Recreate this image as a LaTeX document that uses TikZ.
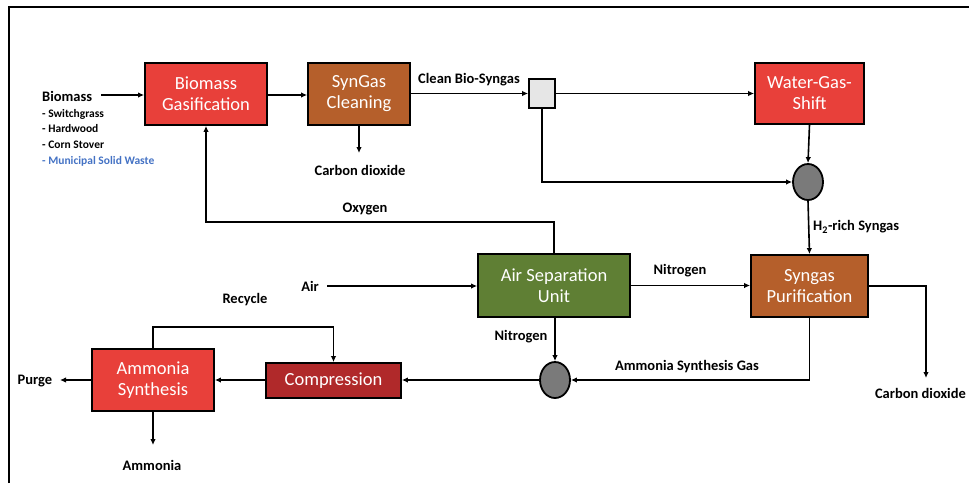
\documentclass[tikz,border=0pt]{standalone}
\usepackage{fontspec}
\setmainfont{Carlito}
\usetikzlibrary{arrows.meta,shapes.geometric}
\definecolor{boxred}{HTML}{E8403A}
\definecolor{boxbrown}{HTML}{B55F2B}
\definecolor{boxdark}{HTML}{B0292A}
\definecolor{boxgreen}{HTML}{5F7F34}
\definecolor{mixgray}{HTML}{7A7A7A}
\definecolor{sqgray}{HTML}{E6E6E6}
\definecolor{wasteblue}{HTML}{4472C4}
\tikzset{
  unit/.style={draw=black, line width=1.8pt, text=white, align=center,
    font=\fontsize{18.5}{21}\selectfont, inner sep=0pt},
  mixer/.style={ellipse, draw=black, line width=1.8pt, fill=mixgray,
    minimum width=30pt, minimum height=36pt, inner sep=0pt},
  lbl/.style={font=\bfseries\fontsize{14.5}{16}\selectfont, inner sep=1pt},
  lst/.style={font=\bfseries\fontsize{11.5}{13}\selectfont, inner sep=0pt, anchor=west},
  arr/.style={line width=1.6pt, -{Latex[length=6pt,width=5.5pt]}},
  ln/.style={line width=1.6pt}
}
\begin{document}
\begin{tikzpicture}[x=1pt,y=-1pt]
\useasboundingbox (0,0) rectangle (969,483);
\draw[line width=2pt] (8.5,483) -- (8.5,7) -- (969,7);

% units
\node[unit, fill=boxred, minimum width=122pt, minimum height=62pt] (bg) at (206,94) {Biomass\\Gasification};
\node[unit, fill=boxbrown, minimum width=102pt, minimum height=62pt] (sc) at (359,94) {SynGas\\Cleaning};
\node[draw=black, line width=1.8pt, fill=sqgray, minimum width=26pt, minimum height=29pt, inner sep=0pt] (sq) at (542,93.5) {};
\node[unit, fill=boxred, minimum width=109pt, minimum height=61pt] (wgs) at (809.5,93.5) {Water-Gas-\\Shift};
\node[mixer] (c1) at (808,182) {};
\node[unit, fill=boxbrown, minimum width=117pt, minimum height=62pt] (sp) at (809.5,286) {Syngas\\Purification};
\node[unit, fill=boxgreen, minimum width=152pt, minimum height=63pt] (asu) at (554,285.5) {Air Separation\\Unit};
\node[mixer] (c2) at (555,380) {};
\node[unit, fill=boxdark, minimum width=135pt, minimum height=35pt] (comp) at (333.5,380.5) {Compression};
\node[unit, fill=boxred, minimum width=122pt, minimum height=62pt] (as) at (153,380) {Ammonia\\Synthesis};

% biomass feed
\node[lbl, anchor=west, inner sep=0pt] (bm) at (42,96) {Biomass};
\node[lst] (l1) at (42,114) {- Switchgrass};
\node[lst] (l2) at (42,129) {- Hardwood};
\node[lst] (l3) at (42,145) {- Corn Stover};
\node[lst, text=wasteblue] (l4) at (42,161) {- Municipal Solid Waste};
\coordinate (bmout) at (101,95);
\draw[arr] (bmout) -- (bg.west |- bmout);

% labels
\node[lbl] (co2a) at (360,170) {Carbon dioxide};
\node[lbl] (cbs) at (469,80) {Clean Bio-Syngas};
\node[lbl, anchor=west] (h2) at (812,227) {H\textsubscript{2}-rich Syngas};
\node[lbl] (oxy) at (365,209) {Oxygen};
\node[lbl] (air) at (310,286) {Air};
\node[lbl] (n2a) at (680,271) {Nitrogen};
\node[lbl] (n2b) at (521,337) {Nitrogen};
\node[lbl] (asg) at (687,367) {Ammonia Synthesis Gas};
\node[lbl, anchor=east] (co2b) at (967,393) {Carbon dioxide};
\node[lbl] (rec) at (245,300) {Recycle};
\node[lbl] (purge) at (35,381) {Purge};
\node[lbl] (amm) at (152,465) {Ammonia};

% connectors
\draw[arr] (bg.east |- 0,95) -- (sc.west |- 0,95);
\draw[arr] (sc.south) -- (359,153);
\draw[arr] (sc.east |- sq.west) -- (sq.west);
\draw[arr] (sq.east) -- (wgs.west |- sq.east);
\draw[arr] (wgs.south) -- (c1.north);
\draw[arr] (sq.south) |- (c1.west);
\draw[arr] (c1.south) -- (sp.north);
\draw[arr] (sp.east) -| (926,378);
\draw[arr] (sp.south) |- (c2.east);
\draw[arr] (asu.north) -- (asu.north |- 0,222) -| (bg.south);
\draw[arr] (327,286) -- (asu.west |- 0,286);
\draw[arr] (asu.east) -- (sp.west |- asu.east);
\draw[arr] (asu.south -| c2.north) -- (c2.north);
\draw[arr] (c2.west) -- (comp.east |- c2.west);
\draw[arr] (comp.west |- 0,380) -- (as.east |- 0,380);
\draw[arr] (as.north) -- (153,327) -| (comp.north);
\draw[arr] (as.west) -- (60,380);
\draw[arr] (as.south) -- (153,445);
\end{tikzpicture}
\end{document}
